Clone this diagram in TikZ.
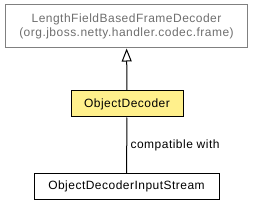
\documentclass[tikz,border=0pt]{standalone}
\usepackage{fontspec}
\setmainfont[LetterSpace=4]{Liberation Sans}
\usetikzlibrary{arrows.meta}
\definecolor{boxyellow}{HTML}{FFF08C}
\definecolor{boxgray}{HTML}{808080}
\definecolor{textgray}{HTML}{6E6E6E}
\tikzset{
    classbox/.style={draw, line width=1pt, minimum height=26pt, inner sep=2pt, font=\fontsize{12}{14}\selectfont},
}
\begin{document}
\begin{tikzpicture}[x=1pt,y=-1pt]
    \useasboundingbox (0,0) rectangle (253,205);
    \node[classbox, draw=boxgray, text=textgray, minimum width=242pt, minimum height=43pt, align=center] (frame) at (126.5,26.5) {LengthFieldBasedFrameDecoder\\(org.jboss.netty.handler.codec.frame)};
    \node[classbox, fill=boxyellow, minimum width=112pt] (decoder) at (127,104) {ObjectDecoder};
    \node[classbox, minimum width=185pt] (stream) at (126.5,186.5) {ObjectDecoderInputStream};
    \draw[line width=1pt, -{Triangle[open,width=10pt,length=13pt]}] (decoder) -- (frame);
    \draw[line width=1pt] (decoder) -- node[right, font=\fontsize{12}{14}\selectfont] {compatible with} (stream);
\end{tikzpicture}
\end{document}
